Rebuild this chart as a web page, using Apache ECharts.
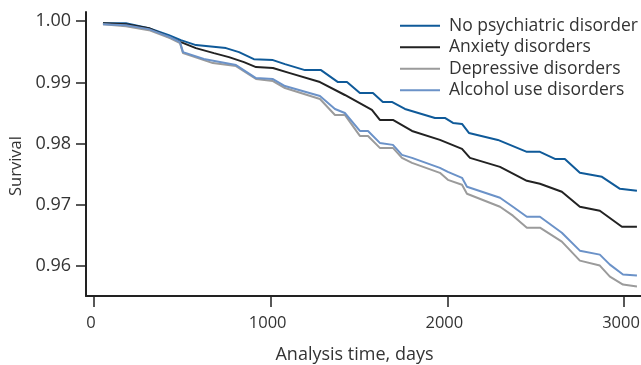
<!DOCTYPE html>
<html>
<head>
<meta charset="utf-8">
<script src="https://cdn.jsdelivr.net/npm/echarts@6/dist/echarts.min.js"></script>
<style>
html, body { margin: 0; padding: 0; background: #fff; }
#chart { width: 641px; height: 365px; }
</style>
</head>
<body>
<div id="chart"></div>
<script>
// survival curves, [days, survival]
var noPsych = [[51,0.99967],[181,0.99967],[311,0.99886],[424,0.99772],[492,0.99690],[577,0.99609],[747,0.99560],[821,0.99494],[905,0.99380],[1013,0.99364],[1081,0.99299],[1194,0.99201],[1285,0.99201],[1381,0.99005],[1432,0.99005],[1505,0.98826],[1579,0.98826],[1635,0.98680],[1686,0.98680],[1760,0.98566],[1930,0.98419],[1986,0.98419],[2032,0.98337],[2083,0.98321],[2122,0.98174],[2286,0.98060],[2450,0.97865],[2524,0.97865],[2609,0.97750],[2665,0.97750],[2750,0.97522],[2875,0.97457],[2977,0.97261],[3073,0.97228]];
var anxiety = [[51,0.99967],[181,0.99951],[311,0.99886],[424,0.99739],[492,0.99658],[577,0.99560],[679,0.99478],[764,0.99413],[849,0.99331],[917,0.99250],[1013,0.99234],[1109,0.99152],[1279,0.99005],[1420,0.98794],[1573,0.98549],[1618,0.98386],[1692,0.98386],[1800,0.98207],[1958,0.98060],[2083,0.97914],[2128,0.97767],[2298,0.97620],[2450,0.97392],[2524,0.97343],[2648,0.97213],[2750,0.96968],[2863,0.96903],[2988,0.96642],[3073,0.96642]];
var depressive = [[51,0.99951],[181,0.99918],[311,0.99853],[430,0.99723],[487,0.99641],[504,0.99478],[622,0.99364],[673,0.99315],[804,0.99267],[917,0.99055],[1013,0.99022],[1081,0.98908],[1279,0.98729],[1364,0.98468],[1420,0.98468],[1505,0.98125],[1551,0.98125],[1618,0.97930],[1692,0.97930],[1743,0.97767],[1800,0.97685],[1958,0.97522],[2003,0.97408],[2083,0.97327],[2111,0.97180],[2298,0.96968],[2371,0.96822],[2450,0.96626],[2524,0.96626],[2648,0.96398],[2750,0.96088],[2863,0.96007],[2920,0.95827],[2994,0.95697],[3073,0.95664]];
var alcohol = [[51,0.99951],[181,0.99935],[311,0.99870],[430,0.99739],[487,0.99658],[504,0.99495],[622,0.99381],[804,0.99283],[917,0.99071],[1013,0.99055],[1081,0.98940],[1279,0.98777],[1364,0.98566],[1420,0.98500],[1505,0.98207],[1551,0.98207],[1618,0.98011],[1692,0.97979],[1743,0.97816],[1800,0.97767],[1958,0.97604],[2003,0.97539],[2083,0.97441],[2111,0.97294],[2298,0.97115],[2371,0.96968],[2450,0.96805],[2524,0.96805],[2648,0.96544],[2750,0.96251],[2863,0.96186],[2920,0.96023],[2994,0.95860],[3073,0.95844]];

var seriesNames = ['No psychiatric disorder', 'Anxiety disorders', 'Depressive disorders', 'Alcohol use disorders'];
var xTicks = [0, 1000, 2000, 3000];
var yTicks = [0.96, 0.97, 0.98, 0.99, 1.00];

var font = '"Open Sans", sans-serif';
var txt = '#333';

function line(name, data, color) {
    return {
        name: name,
        type: 'line',
        data: data,
        symbol: 'none',
        animation: false,
        lineStyle: { color: color, width: 2 },
        itemStyle: { color: color }
    };
}

var myChart = echarts.init(document.getElementById('chart'));
var option = {
    textStyle: { fontFamily: font },
    grid: { left: 86, right: 0, top: 12, bottom: 69, containLabel: false, outerBoundsMode: 'none' },
    legend: {
        data: seriesNames,
        orient: 'vertical',
        left: 395,
        top: 10,
        icon: 'path://M0,6h40v2h-40z M0,0h0v14h0z',
        itemWidth: 40,
        itemHeight: 14,
        itemGap: 0,
        textStyle: { fontFamily: font, fontSize: 17.5, lineHeight: 21.5, color: txt, padding: [0, 0, 0, 4] }
    },
    xAxis: {
        type: 'value',
        min: -45,
        max: 3096,
        name: 'Analysis time, days',
        nameLocation: 'middle',
        nameGap: 50,
        nameTextStyle: { fontFamily: font, fontSize: 18, color: txt, padding: [0, 0, 0, -18] },
        splitLine: { show: false },
        axisLine: { onZero: false, lineStyle: { color: '#222', width: 2 } },
        axisTick: { customValues: xTicks, length: 11, lineStyle: { color: '#222', width: 1.5 } },
        axisLabel: {
            customValues: xTicks, margin: 19, fontFamily: font, fontSize: 16.5, color: txt,
            padding: [0, 6, 0, 0],
            formatter: function (v) { return String(v); }
        }
    },
    yAxis: {
        type: 'value',
        min: 0.9551,
        max: 1.0015,
        name: 'Survival',
        nameLocation: 'middle',
        nameGap: 39,
        nameTextStyle: { fontFamily: font, fontSize: 16.5, color: txt, padding: [0, 24, 0, 0] },
        splitLine: { show: false },
        axisLine: { show: true, onZero: false, lineStyle: { color: '#222', width: 2 } },
        axisTick: { show: true, customValues: yTicks, length: 10, lineStyle: { color: '#222', width: 1.5 } },
        axisLabel: {
            customValues: yTicks, margin: 15, fontFamily: font, fontSize: 18, color: txt,
            padding: [4, 0, 0, 0],
            formatter: function (v) { return v.toFixed(2); }
        }
    },
    series: [
        line(seriesNames[0], noPsych, '#0f5a99'),
        line(seriesNames[1], anxiety, '#222222'),
        line(seriesNames[2], depressive, '#9b9b9b'),
        line(seriesNames[3], alcohol, '#6b92c8')
    ]
};
myChart.setOption(option);
</script>
</body>
</html>
